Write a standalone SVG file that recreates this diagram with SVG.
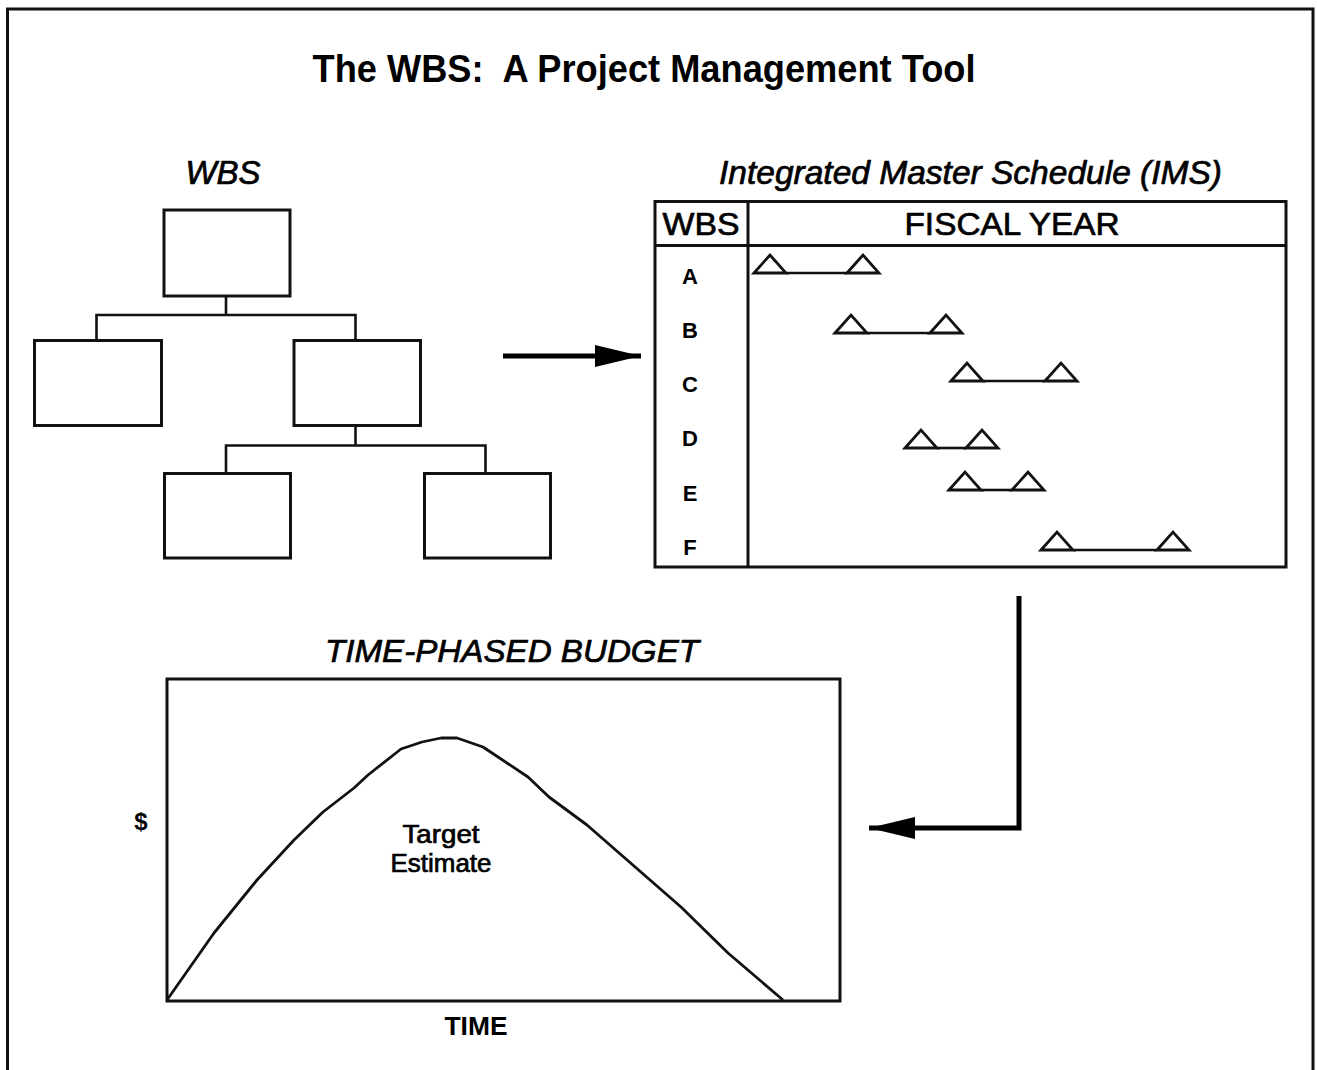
<svg xmlns="http://www.w3.org/2000/svg" xmlns:xlink="http://www.w3.org/1999/xlink" width="1317" height="1070" viewBox="0 0 1317 1070">
  <style>
    text { font-family: "Liberation Sans", Arial, sans-serif; fill: #000; }
    .heavy { stroke: #000; stroke-width: 0.7; }
    .box { fill: #fff; stroke: #111; stroke-width: 3; }
    .ln { fill: none; stroke: #111; stroke-width: 2.6; }
    .tri { fill: #fff; stroke: #111; stroke-width: 2.8; stroke-linejoin: miter; }
    .big { fill: none; stroke: #000; stroke-width: 5; }
    .title { font-size: 38px; font-weight: bold; white-space: pre; }
    .ital { font-style: italic; }
    .row { font-size: 22px; font-weight: bold; text-anchor: middle; }
  </style>
  <defs>
    <path id="tri" class="tri" d="M0,0 L16,-18 L32,0 Z"/>
    <marker id="head" markerUnits="userSpaceOnUse" markerWidth="48" markerHeight="24" refX="46" refY="11" orient="auto">
      <path d="M0,0 L46,11 L0,22 Z" fill="#000"/>
    </marker>
  </defs>

  <rect x="7.5" y="9" width="1305.5" height="1090" fill="#fff" stroke="#111" stroke-width="3"/>

  <text class="title" x="644" y="82" text-anchor="middle" textLength="663" lengthAdjust="spacingAndGlyphs" xml:space="preserve">The WBS:  A Project Management Tool</text>

  <text class="ital heavy" x="223" y="184" font-size="33" text-anchor="middle">WBS</text>
  <text class="ital heavy" x="719" y="184" font-size="33" textLength="503" lengthAdjust="spacingAndGlyphs">Integrated Master Schedule (IMS)</text>
  <text class="ital heavy" x="512" y="662" font-size="32" text-anchor="middle" textLength="374" lengthAdjust="spacingAndGlyphs">TIME-PHASED BUDGET</text>

  <g id="wbs-top"><rect class="box" x="164" y="210" width="126" height="86"/></g>
  <g id="wbs-left"><rect class="box" x="34.5" y="340.5" width="127" height="85"/></g>
  <g id="wbs-right"><rect class="box" x="294" y="340.5" width="126.5" height="85"/></g>
  <g id="wbs-bottom-left"><rect class="box" x="164.5" y="473.5" width="126" height="84.5"/></g>
  <g id="wbs-bottom-right"><rect class="box" x="424.5" y="473.5" width="126" height="84.5"/></g>

  <g id="ims">
    <rect x="655" y="201.5" width="631" height="365.5" fill="#fff" stroke="#111" stroke-width="3"/>
    <line x1="655" y1="245.5" x2="1286" y2="245.5" stroke="#111" stroke-width="3"/>
    <line x1="748" y1="201.5" x2="748" y2="567" stroke="#111" stroke-width="3"/>
    <text class="heavy" x="701" y="235" font-size="32" text-anchor="middle" textLength="77" lengthAdjust="spacingAndGlyphs">WBS</text>
    <text class="heavy" x="1012" y="235" font-size="32" text-anchor="middle" textLength="215" lengthAdjust="spacingAndGlyphs">FISCAL YEAR</text>
    <text class="row" x="690" y="284">A</text>
    <text class="row" x="690" y="338">B</text>
    <text class="row" x="690" y="392">C</text>
    <text class="row" x="690" y="446">D</text>
    <text class="row" x="690" y="501">E</text>
    <text class="row" x="690" y="555">F</text>
    <g id="row-a"><use xlink:href="#tri" x="754" y="273"/><use xlink:href="#tri" x="847" y="273"/><line class="ln" x1="786" y1="273" x2="847" y2="273"/></g>
    <g id="row-b"><use xlink:href="#tri" x="835" y="333"/><use xlink:href="#tri" x="930" y="333"/><line class="ln" x1="867" y1="333" x2="930" y2="333"/></g>
    <g id="row-c"><use xlink:href="#tri" x="951" y="381"/><use xlink:href="#tri" x="1045" y="381"/><line class="ln" x1="983" y1="381" x2="1045" y2="381"/></g>
    <g id="row-d"><use xlink:href="#tri" x="905" y="448"/><use xlink:href="#tri" x="966" y="448"/><line class="ln" x1="937" y1="448" x2="966" y2="448"/></g>
    <g id="row-e"><use xlink:href="#tri" x="949" y="490"/><use xlink:href="#tri" x="1012" y="490"/><line class="ln" x1="981" y1="490" x2="1012" y2="490" stroke-width="3.5"/></g>
    <g id="row-f"><use xlink:href="#tri" x="1041" y="550"/><use xlink:href="#tri" x="1157" y="550"/><line class="ln" x1="1073" y1="550" x2="1157" y2="550"/></g>
  </g>

  <g id="budget">
    <rect x="167" y="679" width="673" height="322" fill="#fff" stroke="#111" stroke-width="3"/>
    <polyline fill="none" stroke="#111" stroke-width="2.8" stroke-linejoin="round" points="167,1000 214,933 257,880 294,840 323,812 354,788 368,775 401,749 422,742 441,738 457,738 483,747 528,777 549,797 587,825 681,907 728,953 783,1000"/>
    <text class="heavy" x="441" y="843" font-size="25" text-anchor="middle" textLength="77" lengthAdjust="spacingAndGlyphs">Target</text>
    <text class="heavy" x="441" y="872" font-size="25" text-anchor="middle" textLength="101" lengthAdjust="spacingAndGlyphs">Estimate</text>
    <text x="141" y="830" font-size="24" font-weight="bold" text-anchor="middle">$</text>
    <text x="476" y="1035" font-size="25" font-weight="bold" text-anchor="middle" textLength="63" lengthAdjust="spacingAndGlyphs">TIME</text>
  </g>

  <g id="connectors">
    <polyline class="ln" points="226,296 226,315"/>
    <polyline class="ln" points="96.5,340.5 96.5,315 355.5,315 355.5,340.5"/>
    <polyline class="ln" points="355.5,425.5 355.5,445.5"/>
    <polyline class="ln" points="226,473.5 226,445.5 485.5,445.5 485.5,473.5"/>
    <line class="big" x1="503" y1="356" x2="641" y2="356" marker-end="url(#head)"/>
    <polyline class="big" points="1019,596 1019,828 869,828" marker-end="url(#head)"/>
  </g>
</svg>
